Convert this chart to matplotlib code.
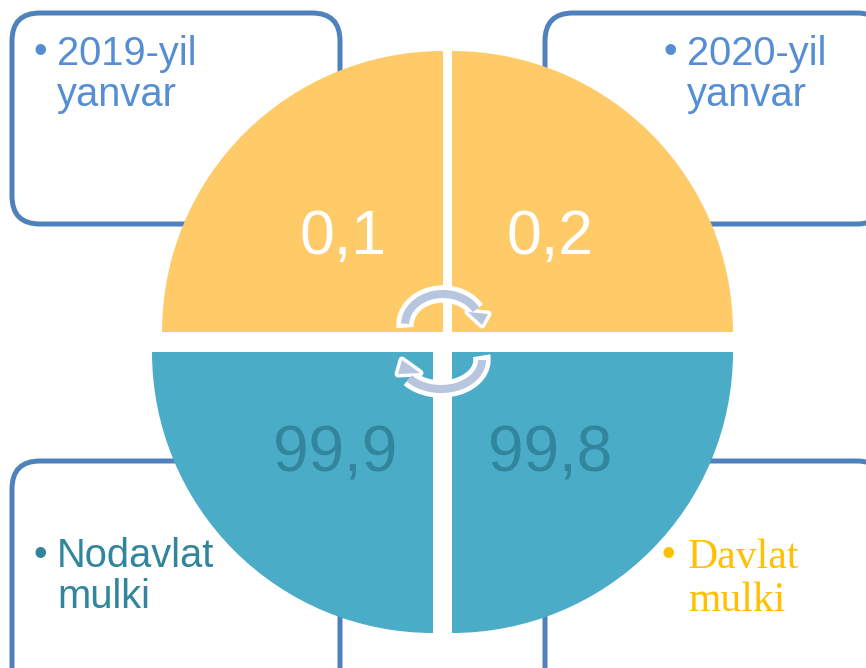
"""Four-quadrant ownership share diagram with corner label boxes."""

import matplotlib

matplotlib.use("Agg")
import matplotlib.pyplot as plt
from matplotlib.patches import Arc, FancyBboxPatch, Polygon, Wedge

# data
top_values = ["0,1", "0,2"]
bottom_values = ["99,9", "99,8"]
year_labels = ["2019-yil\nyanvar", "2020-yil\nyanvar"]
owner_labels = ["Nodavlat\nmulki", "Davlat\nmulki"]

AMBER = "#FFCB69"
TEAL = "#4AACC6"
DARK_TEAL = "#31859C"
BLUE = "#558ED5"
BORDER = "#4F81BD"
GOLD = "#FFC000"
ARROW = "#B8C5DE"
R = 281


def box(ax, x, y, w, h):
    ax.add_patch(FancyBboxPatch((x + 28, y + 28), w - 56, h - 56,
                                boxstyle="round,pad=28,rounding_size=28",
                                fc="white", ec=BORDER, lw=3.6, zorder=1))


def label(ax, x, y, text, color, dot, family="Liberation Sans", size=28.7, spacing=1.11):
    ax.text(x, y, text, color=color, family=family, fontsize=size, va="top",
            ha="left", linespacing=spacing, zorder=5)
    ax.text(dot[0], dot[1], "•", color=color, family="Liberation Sans",
            fontsize=28, va="center", ha="center", zorder=5)


def cycle_arrow(ax, center, width, height, halo, band, head):
    # white halo first, then the light band on top
    ax.add_patch(Arc(center, width, height, theta1=halo[0], theta2=halo[1],
                     ec="white", lw=12.5, capstyle="butt", zorder=6))
    ax.add_patch(Polygon(head, closed=True, fc=ARROW, ec="white", lw=5,
                         joinstyle="round", zorder=7))
    ax.add_patch(Polygon(head, closed=True, fc=ARROW, ec="none", zorder=8))
    ax.add_patch(Arc(center, width, height, theta1=band[0], theta2=band[1],
                     ec=ARROW, lw=5.8, capstyle="butt", zorder=8))


fig = plt.figure(figsize=(8.66, 6.68), dpi=100)
ax = fig.add_axes([0, 0, 1, 1])
ax.set_xlim(0, 866)
ax.set_ylim(668, 0)
ax.axis("off")

box(ax, 12, 13, 328, 211)
box(ax, 545, 13, 340, 211)
box(ax, 12, 461, 328, 240)
box(ax, 545, 461, 340, 240)

# y axis is flipped, so angles run clockwise on screen
ax.add_patch(Wedge((443, 332), R, 180, 270, fc=AMBER, ec="none", zorder=3))
ax.add_patch(Wedge((452, 332), R, 270, 360, fc=AMBER, ec="none", zorder=3))
ax.add_patch(Wedge((433, 352), R, 90, 180, fc=TEAL, ec="none", zorder=3))
ax.add_patch(Wedge((452, 352), R, 0, 90, fc=TEAL, ec="none", zorder=3))

ax.text(343, 238, top_values[0], color="white", family="Liberation Sans",
        fontsize=45, ha="center", va="center", zorder=5)
ax.text(550, 238, top_values[1], color="white", family="Liberation Sans",
        fontsize=45, ha="center", va="center", zorder=5)
ax.text(335, 454, bottom_values[0], color=DARK_TEAL, family="Liberation Sans",
        fontsize=46, ha="center", va="center", zorder=5)
ax.text(550, 454, bottom_values[1], color=DARK_TEAL, family="Liberation Sans",
        fontsize=46, ha="center", va="center", zorder=5)

label(ax, 57, 35, year_labels[0], BLUE, (40, 53))
label(ax, 687, 35, year_labels[1], BLUE, (670, 53))
label(ax, 57, 537, owner_labels[0], DARK_TEAL, (40, 556))
label(ax, 688, 539, owner_labels[1], GOLD, (668, 556), family="Liberation Serif",
      size=30, spacing=1.15)

cycle_arrow(ax, (443, 325), 76, 62, (176, 335), (182, 335),
            [(468, 312), (488, 314), (482, 325)])
cycle_arrow(ax, (441, 360), 82, 58, (-6, 150), (0, 150),
            [(420, 373), (402, 360), (398, 374)])

fig.savefig("out.png", dpi=100)
